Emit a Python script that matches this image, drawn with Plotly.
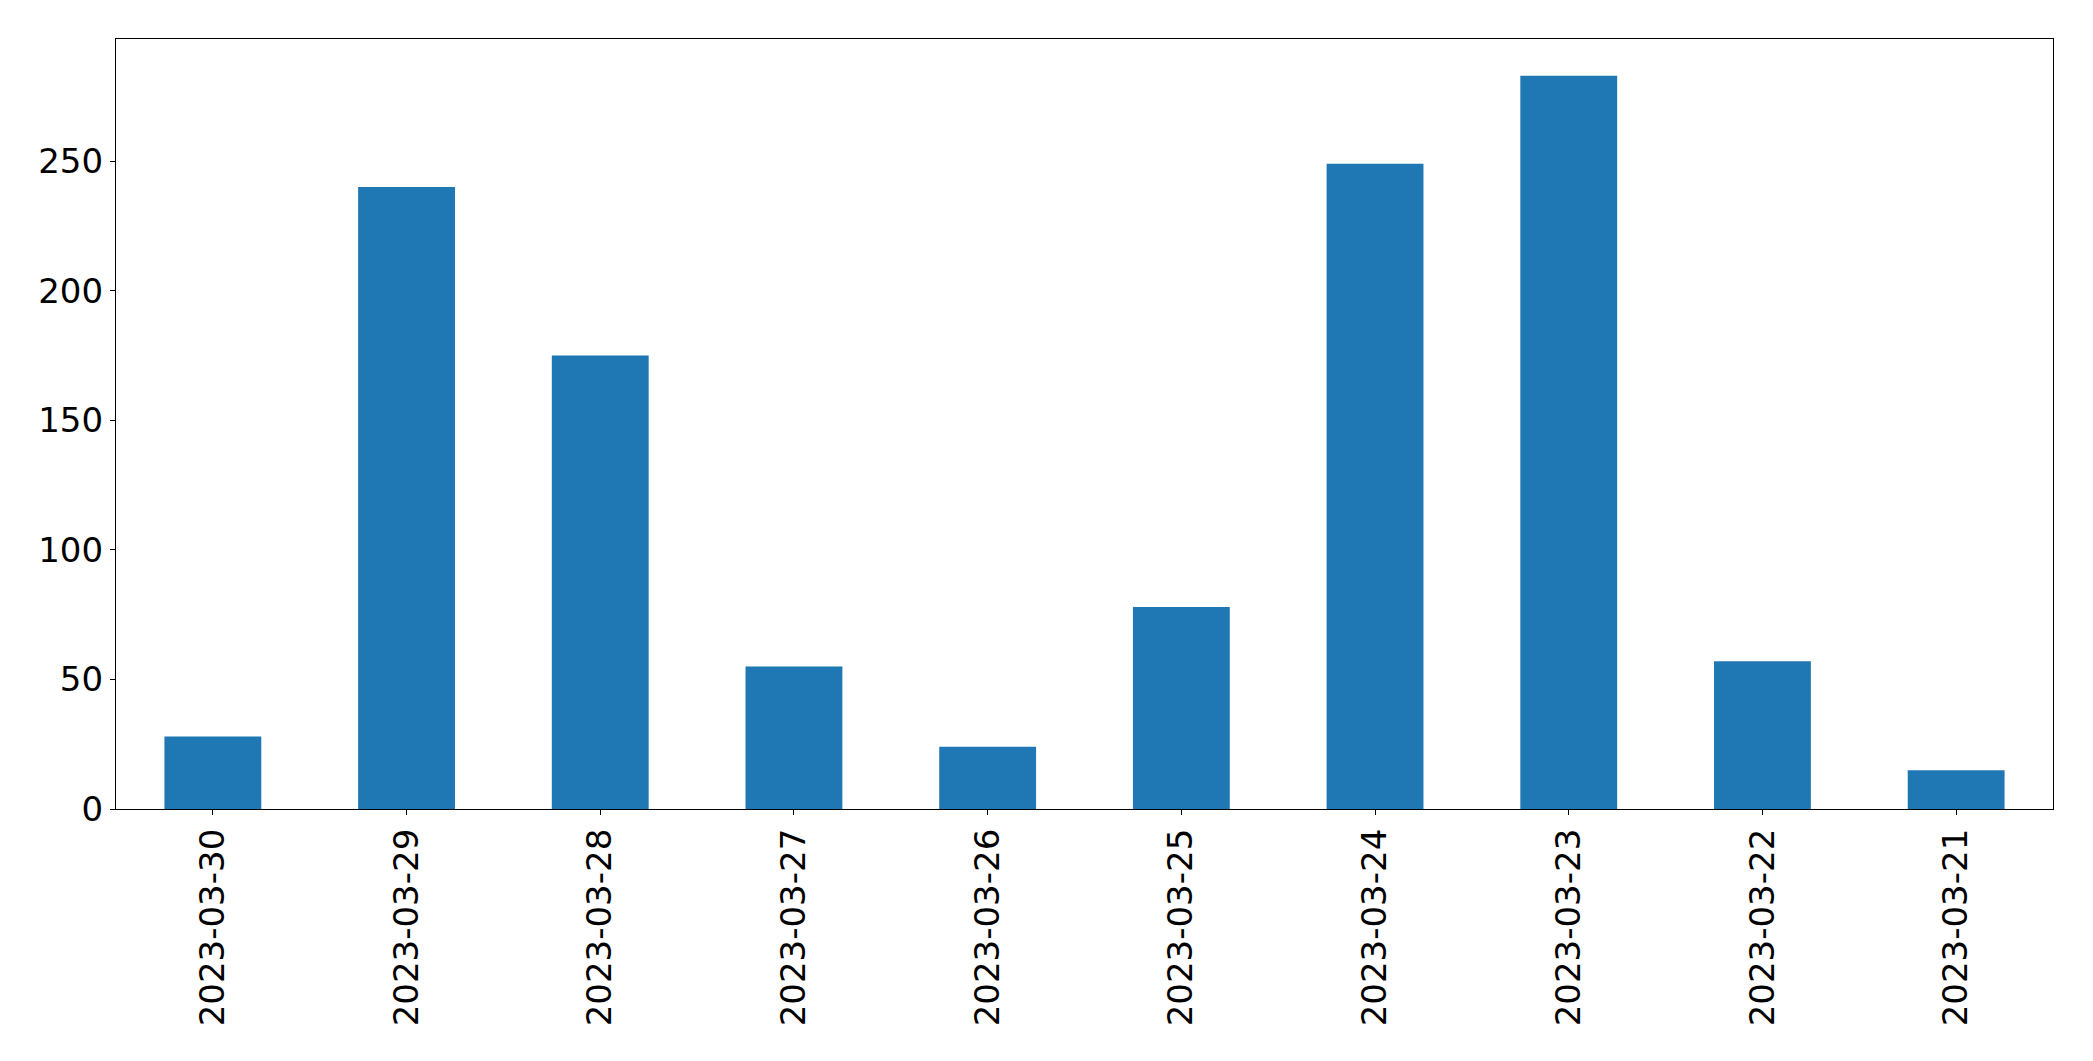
import plotly.graph_objects as go

dates = ["2023-03-30", "2023-03-29", "2023-03-28", "2023-03-27", "2023-03-26",
         "2023-03-25", "2023-03-24", "2023-03-23", "2023-03-22", "2023-03-21"]
counts = [28, 240, 175, 55, 24, 78, 249, 283, 57, 15]
y_ticks = [0, 50, 100, 150, 200, 250]

fig = go.Figure(go.Bar(x=list(range(len(dates))), y=counts, width=0.5,
                       marker=dict(color="#1f77b4", line=dict(width=0))))

font = dict(family="DejaVu Sans", size=34, color="black")
fig.update_layout(
    width=2093, height=1061,
    margin=dict(l=108, r=48, t=31, b=260),
    paper_bgcolor="white", plot_bgcolor="white",
    showlegend=False,
    font=font,
)
fig.update_xaxes(
    range=[-0.5, len(dates) - 0.5],
    tickmode="array", tickvals=list(range(len(dates))), ticktext=dates,
    tickangle=-90, ticks="outside", ticklen=5, tickcolor="black",
    showline=True, linecolor="black", linewidth=1.3, mirror=True,
    showgrid=False, zeroline=False, tickfont=font,
)
fig.update_yaxes(
    range=[0, max(counts) * 1.05],
    tickmode="array", tickvals=y_ticks,
    ticks="outside", ticklen=5, tickcolor="black",
    showline=True, linecolor="black", linewidth=1.3, mirror=True,
    showgrid=False, zeroline=False, tickfont=font,
)
fig.write_html("out.html")
